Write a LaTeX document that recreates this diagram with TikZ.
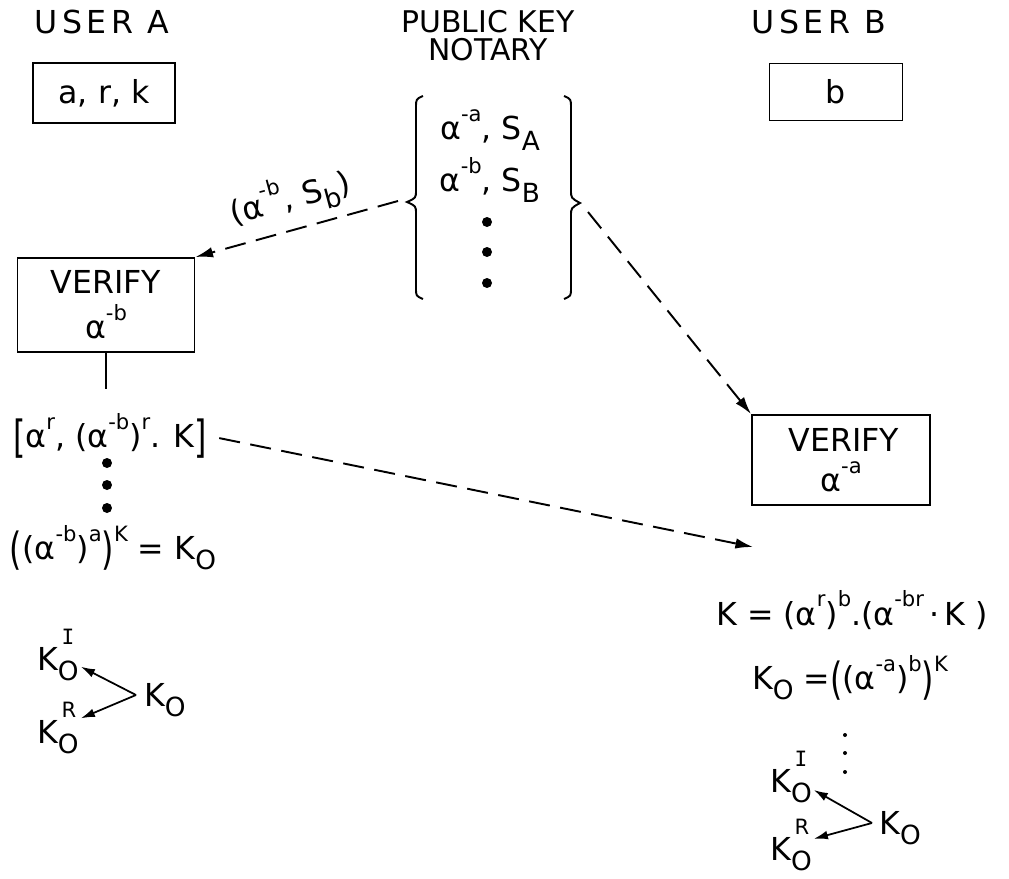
\documentclass[tikz,border=0pt]{standalone}
\usepackage{fontspec}
\usepackage{graphicx}
\setmainfont{DejaVu Sans}
\newfontfamily\widefont{DejaVu Sans}[LetterSpace=14]
\newfontfamily\barfont{DejaVu Sans Mono}
\usetikzlibrary{arrows,arrows.meta,positioning}
\newcommand{\hisup}[1]{\raisebox{1.05ex}{\fontsize{12}{13}\selectfont #1}}
\newcommand{\losub}[1]{\raisebox{-0.6ex}{\fontsize{15}{16}\selectfont #1}}
\newcommand{\tallb}[1]{\raisebox{-0.3ex}{\scalebox{1}[1.4]{#1}}}
\newcommand{\kpair}[1]{K\rlap{\raisebox{1.5ex}{\fontsize{12}{13}\selectfont\,#1}}\losub{O}}
\tikzstyle{txt}=[inner sep=1pt,font=\fontsize{18}{19}\selectfont]
\tikzstyle{keybox}=[txt,draw,line width=1.1pt,align=center]
\tikzstyle{flow} = [draw,line width=1.1pt,dash pattern=on 12pt off 6pt,-{Latex[length=10pt,width=6pt]}]
\tikzstyle{link} = [draw,line width=1pt,-{Latex[length=8pt,width=5pt]}]

\begin{document}
\begin{tikzpicture}[x=0.02cm,y=-0.02cm]
    \useasboundingbox (0,0) rectangle (1009,879);
    % the three parties
    \node[txt,font=\fontsize{18}{19}\widefont] (userA) at (102,22) {USER A};
    \node[txt,align=center,font=\fontsize{17}{16}\selectfont] (notary) at (488,36) {PUBLIC KEY\\NOTARY};
    \node[txt,font=\fontsize{18}{19}\widefont] (userB) at (819,22) {USER B};
    \node[keybox,minimum width=2.84cm,minimum height=1.2cm] (secA) at (104,93) {a, r, k};
    \node[keybox,minimum width=2.66cm,minimum height=1.14cm] (secB) at (836,92) {b};
    % the notary list between braces
    \node[txt] (rowA) at (490,130) {α\hisup{-a}, S\losub{A}};
    \node[txt] (rowB) at (490,180) {α\hisup{-b}, S\losub{B}};
    \foreach \y in {222,252,283}
        \fill (487,\y) circle (0.1cm);
    \draw[line width=1.1pt] (423,96) .. controls (416,99) .. (416,108) -- (416,190)
        .. controls (416,198) .. (407,202) .. controls (416,206) .. (416,214) -- (416,288)
        .. controls (416,296) .. (423,299);
    \draw[line width=1.1pt] (564,96) .. controls (571,99) .. (571,108) -- (571,190)
        .. controls (571,198) .. (580,203) .. controls (571,208) .. (571,216) -- (571,288)
        .. controls (571,296) .. (564,299);
    \coordinate (lbrace) at (398,201);
    \coordinate (rbrace) at (588,212);
    % user A side
    \node[keybox,minimum width=3.54cm,minimum height=1.88cm] (verA) at (106,305) {VERIFY\\[5pt]α\hisup{-b}};
    \node[txt] (stepA1) at (110,436) {\tallb{[}α\hisup{r}, (α\hisup{-b})\hisup{r}. K\tallb{]}};
    \foreach \y in {463,485,508}
        \fill (107,\y) circle (0.1cm);
    \node[txt] (stepA2) at (113,548) {\tallb{(}(α\hisup{-b})\hisup{a}\tallb{)}\hisup{K} = K\losub{O}};
    \node[txt] (kiA) at (58,655) {\kpair{\barfont I}};
    \node[txt] (krA) at (58,728) {\kpair{R}};
    \node[txt] (koA) at (165,700) {K\losub{O}};
    \coordinate (forkA) at (136,695);
    % user B side
    \node[keybox,minimum width=3.56cm,minimum height=1.8cm] (verB) at (841,460) {\,VERIFY\\[4pt]α\hisup{-a}};
    \coordinate (recvB) at (753,547);
    \node[txt] (stepB1) at (852,610) {K = (α\hisup{r})\hisup{b}.(α\hisup{-br}\,·\,K )};
    \node[txt] (stepB2) at (850,678) {K\losub{O} =\tallb{(}(α\hisup{-a})\hisup{b}\tallb{)}\hisup{K}};
    \foreach \y in {735,753,772}
        \fill (845,\y) circle (0.04cm);
    \node[txt] (kiB) at (791,777) {\kpair{\barfont I}};
    \node[txt] (krB) at (791,845) {\kpair{R}};
    \node[txt] (koB) at (900,828) {K\losub{O}};
    \coordinate (forkB) at (872,823);
    % connectors
    \path[flow] (lbrace) -- (verA.north east);
    \node[txt,rotate=15] (certB) at (290,197) {(α\hisup{-b}, S\losub{b})};
    \path[flow] (rbrace) -- (verB.north west);
    \path[flow,shorten <=6pt] (stepA1.east) -- (recvB);
    \draw[line width=1.1pt] (verA.south) -- ++(0,36);
    \foreach \source/\dest in {forkA/kiA, forkA/krA, forkB/kiB, forkB/krB}
        \path[link] (\source) -- (\dest);
\end{tikzpicture}
\end{document}
